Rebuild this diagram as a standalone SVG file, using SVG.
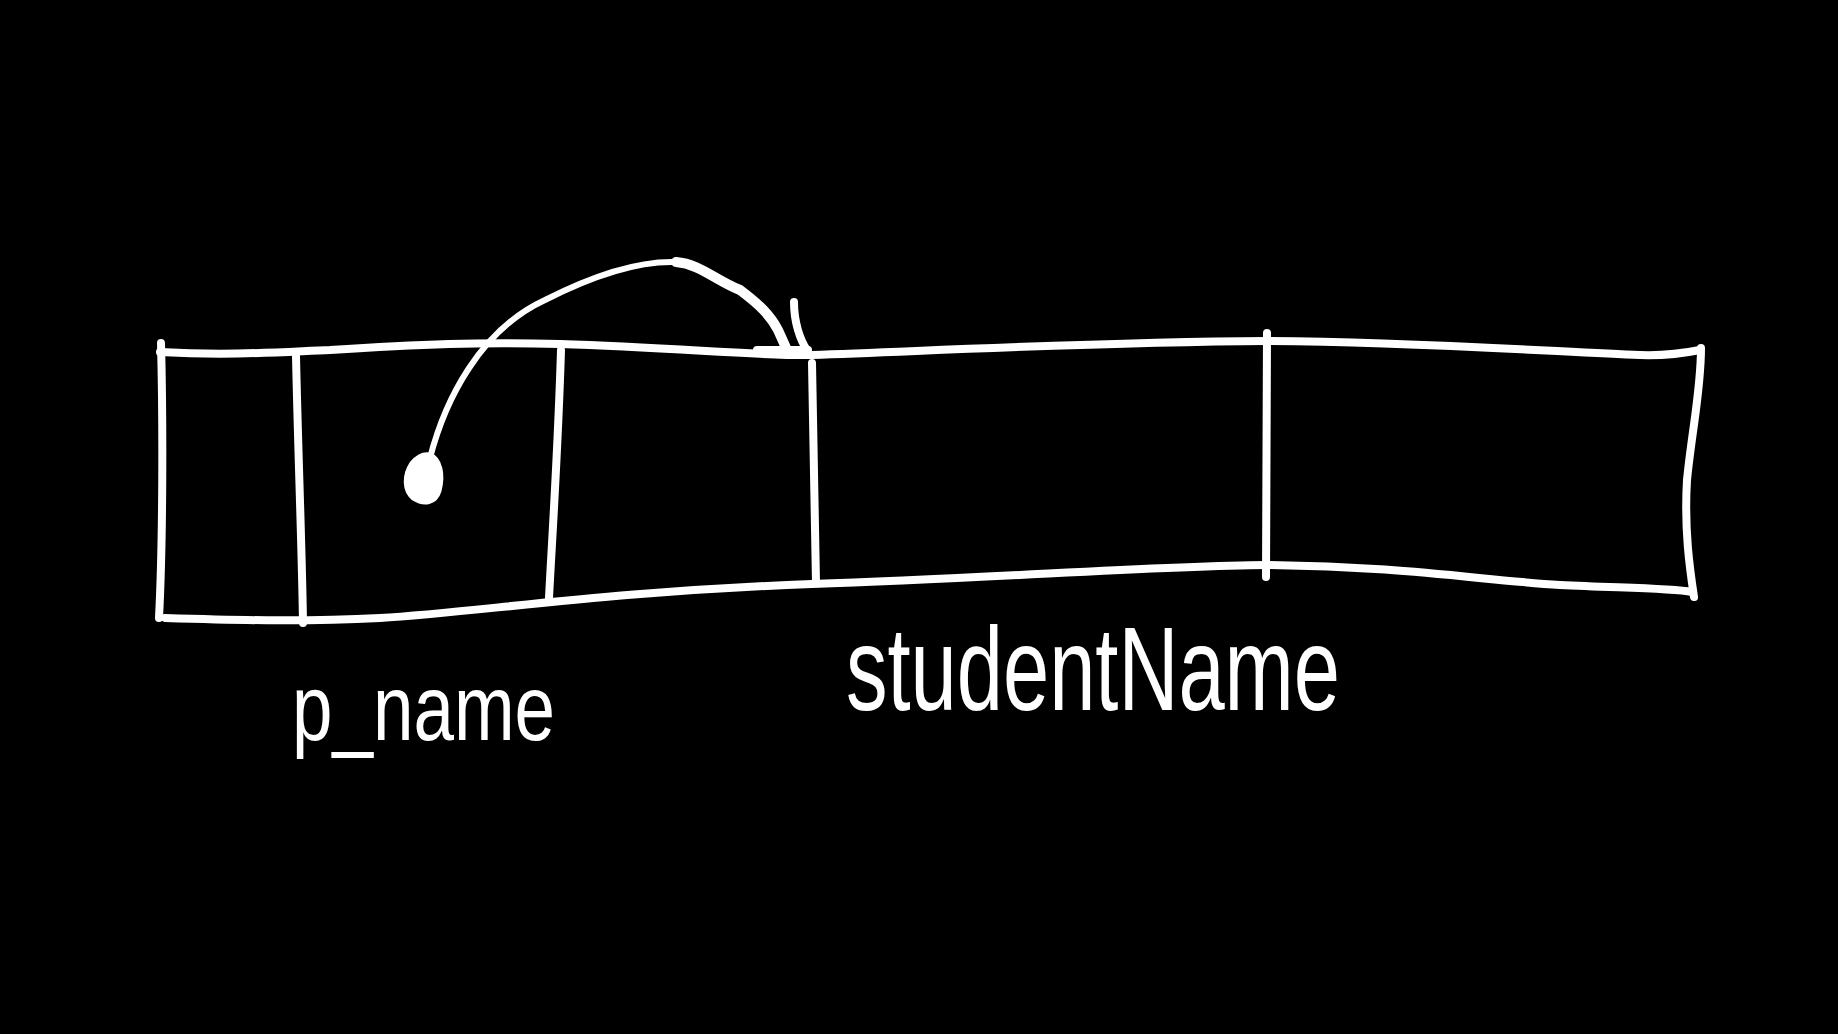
<svg xmlns="http://www.w3.org/2000/svg" width="1838" height="1034" viewBox="0 0 1838 1034">
  <style>
    .ink { fill: none; stroke: #ffffff; stroke-width: 8; stroke-linecap: round; stroke-linejoin: round; }
    .thin { stroke-width: 6; }
    .thick { stroke-width: 10; }
    .hand { fill: #ffffff; font-family: "Liberation Sans", "DejaVu Sans", sans-serif; }
  </style>
  <rect x="0" y="0" width="1838" height="1034" fill="#000000"/>

  <g id="memory-array">
    <path class="ink" d="M160,352 C230,356 280,352 330,350 C420,344 480,342 560,344 C680,348 760,356 812,355 C950,350 1100,342 1267,341 C1420,342 1560,352 1640,355 C1670,356 1690,352 1700,350"/>
    <path class="ink" d="M165,618 C230,620 300,622 380,618 C480,612 600,592 812,584 C1000,578 1150,566 1267,565 C1400,566 1480,580 1560,585 C1620,588 1670,588 1692,592"/>
    <path class="ink" d="M161,343 C163,420 163,540 159,618"/>
    <path class="ink" d="M1701,348 C1701,390 1692,430 1687,480 C1684,530 1690,570 1694,597"/>
    <g id="cell-1"><path class="ink" d="M296,356 C298,450 302,550 303,623"/></g>
    <g id="cell-2"><path class="ink" d="M561,350 C558,450 552,540 549,598"/></g>
    <g id="cell-3"><path class="ink" d="M812,363 C813,450 815,530 816,583"/></g>
    <g id="cell-4"><path class="ink" d="M1267,333 C1267,420 1267,500 1266,577"/></g>
  </g>

  <g id="connectors">
    <path d="M429,454 C442,458 444,476 440,491 C436,504 424,506 413,499 C403,491 403,475 411,463 C417,456 423,453 429,454 Z" fill="#ffffff" stroke="#ffffff" stroke-width="3"/>
    <path class="ink thin" d="M430,458 C445,400 480,330 545,300 C600,272 650,258 688,263"/>
    <path class="ink thick" d="M676,262 C700,264 715,280 740,290 C760,305 770,315 778,330 L787,350"/>
    <path class="ink" d="M794,302 C794,322 800,340 807,350"/>
    <path class="ink" d="M757,350 L808,350"/>
  </g>

  <g id="labels">
    <text id="label-p_name" class="hand" x="292" y="740" font-size="92" textLength="263" lengthAdjust="spacingAndGlyphs">p_name</text>
    <text id="label-studentName" class="hand" x="846" y="710" font-size="118" textLength="494" lengthAdjust="spacingAndGlyphs">studentName</text>
  </g>
</svg>
